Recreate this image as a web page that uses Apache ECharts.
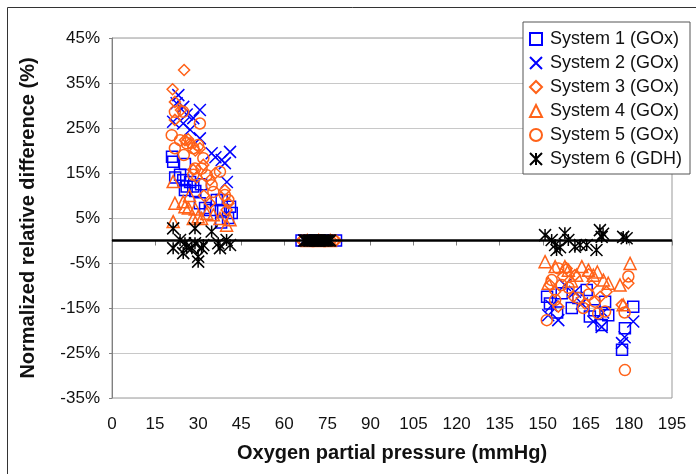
<!DOCTYPE html>
<html>
<head>
<meta charset="utf-8">
<script src="https://cdn.jsdelivr.net/npm/echarts@6/dist/echarts.min.js"></script>
<style>
  html, body { margin: 0; padding: 0; background: #fff; }
  #grafico { width: 696px; height: 474px; }
</style>
</head>
<body>
<div id="grafico"></div>
<script>
// Datos: [presion O2 (mmHg), diferencia relativa normalizada (%)]
const nombres = ['System 1 (GOx)', 'System 2 (GOx)', 'System 3 (GOx)', 'System 4 (GOx)', 'System 5 (GOx)', 'System 6 (GDH)'];

const sistema1 = [
  [21.3, 17.5], [20.9, 18.6], [22, 14], [23.7, 14.6], [24.8, 13.4], [25.4, 17], [26, 12], [25.4, 11.2],
  [27.2, 13], [28.3, 12], [29, 11], [30.6, 8.3], [31, 12.5], [32.4, 7.2], [34.1, 6.8], [36.5, 9],
  [38.2, 9], [38.7, 6.8], [40.4, 5], [41.1, 7.5], [41.7, 6.1], [38, 4],
  [66, 0], [70, 0], [74, 0], [78, 0],
  [152.5, -14], [151.5, -12.5], [156.6, -11.7], [160.1, -15], [162.4, -12.8], [165.3, -11], [166.4, -16.9],
  [170.5, -18.8], [171.7, -13.6], [172.8, -16.6], [177.6, -24.3], [178.6, -19.5], [181.5, -14.7], [155, -16], [168, -15.5]
];
const sistema2 = [
  [23.1, 32.3], [24.8, 29.7], [30.6, 29], [21.3, 26.4], [24.8, 26], [28.3, 27.2], [27.2, 24.6], [30.6, 22.7],
  [34.7, 19.4], [41.1, 19.7], [38.2, 17.9], [39.3, 17.2], [36, 18.5], [26, 28], [22.5, 30.5], [40, 13],
  [67, 0], [71, 0], [75, 0],
  [151.9, -16.6], [155.4, -17.7], [157.7, -9.9], [161.2, -11.4], [163.6, -14], [167.6, -18], [170.5, -19.2],
  [177.6, -22.8], [178.5, -21.5], [181.5, -18], [153, -14.5], [171, -16]
];
const sistema3 = [
  [25.1, 37.9], [21.1, 33.6], [21.9, 30.8], [21.9, 26.8], [25.4, 22.3], [27.2, 21.6], [30.6, 20.5], [28.3, 15.7],
  [31.8, 16.8], [34.1, 13.4], [39.3, 11.2], [40.5, 8.3], [39.9, 6.8], [34.1, 8.3], [24, 29], [26.5, 22.5],
  [29, 20], [36, 15], [32, 10], [29.5, 14],
  [66, 0], [76.5, 0], [78, 0],
  [152.5, -9.9], [154.3, -11.4], [158.3, -6.2], [155.4, -14.7], [160.6, -12.5], [161.2, -7.7], [164.7, -14],
  [172.2, -11.4], [177.5, -14.3], [179.8, -9.5], [157, -8], [167, -10], [170, -12.5], [166, -7.5]
];
const sistema4 = [
  [21.3, 13.1], [21.9, 8.3], [24.8, 8.6], [25.4, 7.5], [26.6, 7.2], [28.3, 4.9], [30, 5.3], [31.2, 4.9],
  [35.3, 5.7], [37.6, 4.9], [39.9, 3.4], [41.1, 4.6], [21.3, 4.2], [27, 10], [33, 6], [29, 7],
  [68, 0], [72, 0], [76, 0],
  [150.8, -4.7], [154.3, -5.8], [157.7, -5.8], [158.9, -6.6], [161.8, -7.7], [163.6, -5.8], [165.9, -6.6],
  [167.6, -7.7], [171.1, -8.8], [172.8, -9.5], [151.9, -9.5], [176.9, -9.9], [178, -14.3], [180.4, -5.1],
  [160, -9], [169, -7]
];
const sistema5 = [
  [21.9, 28.6], [24.8, 28.6], [30.6, 26], [20.8, 23.4], [23.7, 22.3], [21.9, 20.5], [26, 21.6], [28.3, 20.5],
  [30, 21.2], [31.8, 18.3], [37.6, 15.3], [34.7, 12.3], [35.3, 10.8], [39.3, 10.1], [40.5, 9], [28.3, 14.6],
  [28.9, 16], [31.2, 16], [25, 19], [33, 14.5],
  [67, 0], [73, 0], [77, 0],
  [155.4, -6.2], [153.1, -8.8], [156.6, -9.9], [164.1, -15], [168.2, -13.6], [171.7, -15.8], [151.4, -17.7],
  [179.8, -8], [154.3, -13.2], [162.4, -12.8], [169.3, -16.2], [178.6, -28.8], [159, -10.5], [166, -12], [178.5, -16]
];
const sistema6 = [
  [21.3, 2.7], [28.9, 2.7], [34.7, 2], [21.3, -1.7], [25.4, -0.6], [24.8, -2.8], [27.8, -1.7], [30, -3.6],
  [31.8, -1], [37, -0.6], [37.6, -1.7], [41.1, -1], [31.2, -1.7], [28.9, -0.6], [23.7, 0.1], [30, -4.7],
  [39.9, 0.1], [26, -1.5],
  [67, 0], [67.5, 0], [68, 0], [68.5, 0], [69, 0], [69.5, 0], [70, 0], [70.5, 0], [71, 0], [71.5, 0],
  [72, 0], [72.5, 0], [73, 0], [73.5, 0], [74, 0], [74.5, 0], [75, 0], [75.5, 0], [76, 0],
  [150.8, 1.2], [153.1, 0.1], [154.8, -2.1], [154.3, -1], [157.7, 1.6], [158.9, 0.1], [161.2, -1.4], [163, -1],
  [165.3, -1], [168.7, -2.1], [169.9, 2.3], [170.5, 0.8], [178, 0.8], [179.2, 0.5], [156, -1.5], [171, 1.5]
];

const azul = '#0000ff';
const naranja = '#ff6219';
const fuente = "'Liberation Sans', Arial, Helvetica, sans-serif";

const simbolos = [
  { symbol: 'rect', size: 11, color: azul },
  { symbol: 'path://M0,0L10,10M10,0L0,10', size: 12, color: azul },
  { symbol: 'diamond', size: 11, color: naranja },
  { symbol: 'triangle', size: 12, color: naranja },
  { symbol: 'circle', size: 11, color: naranja },
  { symbol: 'path://M0,0L10,10M10,0L0,10M5,0L5,10', size: 12, color: '#000' }
];
const datos = [sistema1, sistema2, sistema3, sistema4, sistema5, sistema6];

const series = datos.map((d, i) => ({
  name: nombres[i],
  type: 'scatter',
  data: d,
  symbol: simbolos[i].symbol,
  symbolSize: simbolos[i].size,
  symbolKeepAspect: true,
  itemStyle: {
    color: 'transparent',
    borderColor: simbolos[i].color,
    borderWidth: 1.5,
    opacity: 1
  },
  emphasis: { disabled: true }
}));

// Linea en cero
series[5].markLine = {
  silent: true,
  symbol: 'none',
  label: { show: false },
  lineStyle: { color: '#000', width: 2.5, type: 'solid' },
  data: [{ yAxis: 0 }]
};

const chart = echarts.init(document.getElementById('grafico'));
chart.setOption({
  backgroundColor: '#fff',
  animation: false,
  textStyle: { fontFamily: fuente },
  grid: {
    left: 112, top: 38, right: 24, bottom: 76,
    show: true, borderColor: '#999', borderWidth: 1
  },
  legend: {
    orient: 'vertical',
    left: 523,
    top: 22,
    padding: [8, 8, 6, 6],
    itemGap: 6,
    itemWidth: 12,
    itemHeight: 12,
    backgroundColor: '#fff',
    borderColor: '#555',
    borderWidth: 1,
    textStyle: { fontSize: 18, color: '#111', fontFamily: fuente, padding: [0, 0, 0, 3] },
    data: nombres
  },
  xAxis: {
    type: 'value',
    min: 0, max: 195, interval: 15,
    name: 'Oxygen partial pressure (mmHg)',
    nameLocation: 'middle',
    nameGap: 45,
    nameTextStyle: { fontSize: 20, fontWeight: 'bold', color: '#111', fontFamily: fuente },
    axisLine: { show: true, lineStyle: { color: '#808080', width: 1 } },
    axisTick: { show: true, length: 5, lineStyle: { color: '#808080' } },
    axisLabel: { fontSize: 17, color: '#111', margin: 18 },
    splitLine: { show: false }
  },
  yAxis: {
    type: 'value',
    min: -35, max: 45, interval: 10,
    name: 'Normalized relative difference (%)',
    nameLocation: 'middle',
    nameGap: 74,
    nameTextStyle: { fontSize: 20, fontWeight: 'bold', color: '#111', fontFamily: fuente },
    axisLine: { show: true, lineStyle: { color: '#808080', width: 1 } },
    axisTick: { show: true, length: 3, lineStyle: { color: '#808080' } },
    axisLabel: { fontSize: 17, color: '#111', margin: 12, formatter: v => v + '%' },
    splitLine: { show: true, lineStyle: { color: '#c8c8c8', width: 1 } }
  },
  graphic: [{
    type: 'rect',
    silent: true,
    shape: { x: 7.5, y: 7.5, width: 1000, height: 1000 },
    style: { fill: 'none', stroke: '#333', lineWidth: 1 }
  }],
  series: series
});
</script>
</body>
</html>
